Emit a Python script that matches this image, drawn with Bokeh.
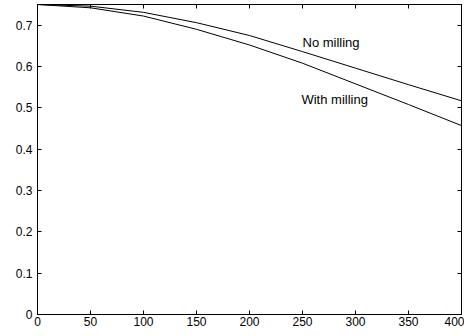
from bokeh.plotting import figure
from bokeh.models import Range1d, LinearAxis, FixedTicker, Label
from bokeh.embed import file_html
from bokeh.resources import INLINE

# Data
x_vals = [0, 50, 100, 150, 200, 250, 300, 350, 400]
no_milling = [0.750, 0.746, 0.731, 0.706, 0.675, 0.636, 0.596, 0.556, 0.517]
with_milling = [0.750, 0.742, 0.722, 0.690, 0.652, 0.608, 0.558, 0.508, 0.457]

x_ticks = [0, 50, 100, 150, 200, 250, 300, 350, 400]
y_ticks = [0, 0.1, 0.2, 0.3, 0.4, 0.5, 0.6, 0.7]
y_tick_labels = ["0", "0.1", "0.2", "0.3", "0.4", "0.5", "0.6", "0.7"]

label_no = ("No milling", 250, 0.658)
label_with = ("With milling", 249, 0.519)

FONT = "Liberation Sans"

p = figure(width=464, height=328, output_backend="svg", toolbar_location=None,
           x_range=Range1d(0, 400), y_range=Range1d(0, 0.75),
           x_axis_location=None, y_axis_location=None,
           min_border_left=37, min_border_right=3, min_border_top=4, min_border_bottom=0)
p.xgrid.visible = False
p.ygrid.visible = False
p.outline_line_color = "black"
p.outline_line_width = 1
p.background_fill_color = "white"
p.border_fill_color = "white"


def style(ax, show_labels):
    ax.major_tick_in = 4
    ax.major_tick_out = 0
    ax.minor_tick_in = 0
    ax.minor_tick_out = 0
    ax.axis_line_color = "black"
    ax.major_tick_line_color = "black"
    if show_labels:
        ax.major_label_text_font = FONT
        ax.major_label_text_font_size = "12px"
        ax.major_label_text_color = "black"
        ax.major_label_standoff = 2
    else:
        ax.major_label_text_color = None
        ax.major_label_text_font_size = "0px"
        ax.major_label_standoff = 0


xb = LinearAxis(ticker=FixedTicker(ticks=x_ticks))
style(xb, True)
p.add_layout(xb, "below")

yl = LinearAxis(ticker=FixedTicker(ticks=y_ticks))
yl.major_label_overrides = {t: s for t, s in zip(y_ticks, y_tick_labels)}
style(yl, True)
yl.major_label_standoff = 5
p.add_layout(yl, "left")

xt = LinearAxis(ticker=FixedTicker(ticks=x_ticks))
style(xt, False)
p.add_layout(xt, "above")

yr = LinearAxis(ticker=FixedTicker(ticks=y_ticks))
style(yr, False)
p.add_layout(yr, "right")

p.line(x_vals, no_milling, line_color="black", line_width=1)
p.line(x_vals, with_milling, line_color="black", line_width=1)

for txt, lx, ly in (label_no, label_with):
    p.add_layout(Label(x=lx, y=ly, text=txt, text_font=FONT, text_font_size="13px",
                       text_color="black", text_baseline="middle", text_align="left"))

open("out.html", "w").write(file_html(p, INLINE))
